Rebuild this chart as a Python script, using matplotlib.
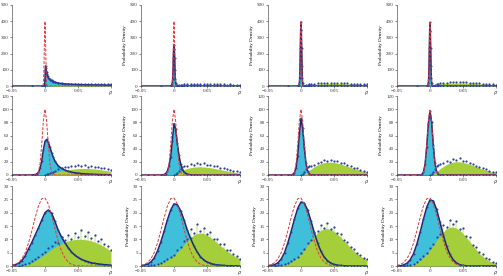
#!/usr/bin/env python3
'''
plot.py
  Probability density panels (3 rows x 4 columns): fitted components
  (cyan / green), histogram points and the reference gaussian (red).
'''

import numpy as np
import matplotlib
matplotlib.use('Agg')
from matplotlib import pyplot as plt

plt.rcParams['font.family'] = ['Liberation Serif', 'DejaVu Serif']

#
#   Data
#

# ---- row 1 (y up to 500) ----
x_r1 = [-0.05, -0.02, -0.005, -0.003, -0.0025, -0.002, -0.0015, -0.001,
        -0.0005, 0, 0.0005, 0.001, 0.0015, 0.002, 0.0025, 0.003, 0.004,
        0.005, 0.0075, 0.01, 0.0125, 0.015, 0.02, 0.025, 0.03, 0.035, 0.04,
        0.045, 0.05, 0.055, 0.06, 0.065, 0.07, 0.075, 0.08, 0.085, 0.09,
        0.095, 0.1]
red_r1 = [0, 0, 0, 4.4, 17.5, 54, 130, 242, 352, 399, 352, 242, 130, 54,
          17.5, 4.4, 0.1, 0, 0, 0, 0, 0, 0, 0, 0, 0, 0, 0, 0, 0, 0, 0, 0, 0,
          0, 0, 0, 0, 0]
cyan_r1 = [
    [0, 0, 0, 0, 0, 0, 0, 0.5, 5, 40, 100, 124, 110, 95, 85, 76, 62, 52, 40,
     32, 27, 23, 18, 15, 13, 11.5, 10.5, 9.5, 9, 8.5, 8, 7.5, 7, 6.5, 6, 5.8,
     5.5, 5.2, 5],
    [0, 0, 0.5, 8, 20, 45, 100, 170, 230, 255, 230, 170, 100, 45, 20, 8, 2,
     1, 0.5, 0.4, 0.3, 0.3, 0.2, 0.2, 0.2, 0.1, 0.1, 0.1, 0.1, 0.1, 0.1, 0.1,
     0, 0, 0, 0, 0, 0, 0],
    [0, 0, 0, 4, 16, 50, 125, 235, 345, 395, 345, 235, 125, 50, 16, 4, 0.5,
     0, 0, 0, 0, 0, 0, 0, 0, 0, 0, 0, 0, 0, 0, 0, 0, 0, 0, 0, 0, 0, 0],
    [0, 0, 0, 4, 16, 50, 124, 232, 342, 392, 342, 232, 124, 50, 16, 4, 0.5,
     0, 0, 0, 0, 0, 0, 0, 0, 0, 0, 0, 0, 0, 0, 0, 0, 0, 0, 0, 0, 0, 0],
]
green_r1 = [
    [0, 0, 0, 0, 0, 0, 0, 0, 0, 0, 0, 0, 0, 0, 0, 0, 0.5, 1, 2, 3, 3.5, 4,
     4.5, 5, 5, 5, 5, 5, 5, 5, 5, 5, 5, 4.8, 4.6, 4.4, 4.2, 4, 3.8],
    [0, 0, 0, 0, 0, 0, 0, 0, 0, 0, 0, 0, 0, 0, 0, 0, 0.5, 1, 2.5, 4, 5, 6, 7,
     7.5, 8, 8, 8, 8, 8, 8, 7.8, 7.5, 7.2, 7, 6.6, 6.2, 5.8, 5.4, 5],
    [0, 0, 0, 0, 0, 0, 0, 0, 0, 0, 0, 0, 0, 0, 0, 0, 0.5, 1, 3, 6, 8, 10, 11,
     12, 13, 14, 14.5, 15, 15, 14.8, 14.2, 13.5, 12.8, 12, 11, 10, 9, 8, 7],
    [0, 0, 0, 0, 0, 0, 0, 0, 0, 0, 0, 0, 0, 0, 0, 0, 0.5, 1, 4, 8, 11, 13,
     15, 16, 17, 17.5, 18, 18, 18, 17.5, 17, 16, 14.5, 13, 11.5, 10, 8.5,
     7.5, 6.5],
]
pts_r1 = [
    [0, 0, 0, 0, 0, 0, 0, 0, 0, 0, 0, 0, 0, 0, 0, 0, 0, 0, 42, 34, 28, 24,
     19, 16, 14, 13, 12, 12.5, 13, 14, 13, 14.5, 13, 12, 12.5, 11, 11.5, 10,
     10],
    [0, 0, 0, 0, 0, 0, 0, 0, 0, 0, 0, 0, 0, 0, 0, 0, 0, 4, 6, 8, 9, 10, 11,
     11.5, 12, 11, 12.5, 11.5, 12, 11, 11.5, 10.5, 10, 10.5, 9, 9.5, 8.5, 8,
     7.5],
    [0, 0, 0, 0, 0, 0, 0, 0, 0, 0, 0, 0, 0, 0, 0, 0, 0, 2, 5, 9, 12, 14, 15,
     16, 17, 19, 18, 20, 19, 19.5, 18, 17, 16.5, 15, 14, 13, 12, 11, 10],
    [0, 0, 0, 0, 0, 0, 0, 0, 0, 0, 0, 0, 0, 0, 0, 0, 0, 2, 6, 11, 15, 18, 20,
     21, 22, 23, 22, 23.5, 22.5, 23, 21, 20, 18, 16, 14, 12, 11, 9.5, 8],
]

# ---- row 2 (y up to 120) ----
x_r2 = [-0.05, -0.04, -0.03, -0.02, -0.015, -0.0125, -0.01, -0.0075,
        -0.005, -0.0025, 0, 0.0025, 0.005, 0.0075, 0.01, 0.0125, 0.015, 0.02,
        0.025, 0.03, 0.035, 0.04, 0.045, 0.05, 0.055, 0.06, 0.065, 0.07,
        0.075, 0.08, 0.085, 0.09, 0.095, 0.1]
red_r2 = [0, 0, 0, 0, 0.09, 0.76, 4.4, 17.2, 45.7, 82, 99.7, 82, 45.7, 17.2,
          4.4, 0.76, 0.09, 0, 0, 0, 0, 0, 0, 0, 0, 0, 0, 0, 0, 0, 0, 0, 0, 0]
cyan_r2 = [
    [0, 0, 0, 0.1, 0.6, 1.6, 4.0, 10, 21, 38, 51, 54, 50, 42, 34, 27, 21, 14,
     10, 7.5, 5.6, 4.3, 3.4, 2.7, 2.1, 1.7, 1.4, 1.1, 0.9, 0.7, 0.6, 0.5,
     0.4, 0.3],
    [0, 0, 0, 0.1, 0.7, 2.2, 6.0, 14, 28, 52, 78, 70, 48, 30, 17, 9, 4.5,
     1.2, 0.3, 0.1, 0, 0, 0, 0, 0, 0, 0, 0, 0, 0, 0, 0, 0, 0],
    [0, 0, 0, 0, 0.2, 0.9, 3.5, 11, 29, 62, 86, 72, 42, 18, 6, 1.6, 0.4, 0,
     0, 0, 0, 0, 0, 0, 0, 0, 0, 0, 0, 0, 0, 0, 0, 0],
    [0, 0, 0, 0, 0.2, 0.8, 4, 16, 42, 78, 97, 80, 45, 18, 5, 1, 0.2, 0, 0, 0,
     0, 0, 0, 0, 0, 0, 0, 0, 0, 0, 0, 0, 0, 0],
]
green_r2 = [
    [0, 0, 0, 0, 0, 0, 0, 0, 0, 0, 0.2, 0.5, 1.0, 1.6, 2.3, 3.0, 3.7, 5.0,
     6.2, 7.2, 8.0, 8.7, 9.2, 9.6, 9.8, 9.9, 9.8, 9.6, 9.2, 8.7, 8.0, 7.2,
     6.4, 5.5],
    [0, 0, 0, 0, 0, 0, 0, 0, 0, 0, 0, 0.5, 1.5, 3.0, 4.8, 6.5, 8.0, 10.0,
     11.2, 12.0, 12.4, 12.5, 12.2, 11.7, 11.0, 10.2, 9.3, 8.3, 7.3, 6.3, 5.3,
     4.4, 3.6, 2.9],
    [0, 0, 0, 0, 0, 0, 0, 0, 0, 0, 0, 0.4, 1.4, 3.0, 5.0, 7.0, 9.0, 12.5,
     15.3, 17.4, 18.8, 19.5, 19.5, 19.0, 18.0, 16.7, 15.1, 13.4, 11.6, 9.9,
     8.3, 6.8, 5.5, 4.4],
    [0, 0, 0, 0, 0, 0, 0, 0, 0, 0, 0, 0.3, 1.2, 2.8, 4.8, 7.0, 9.2, 13.0,
     16.0, 18.2, 19.6, 20.2, 20.0, 19.2, 17.9, 16.3, 14.5, 12.6, 10.7, 8.9,
     7.3, 5.8, 4.5, 3.4],
]
pts_r2 = [
    [0, 0, 0, 0, 0, 0, 0, 0, 0, 0, 0.3, 0.8, 1.5, 2.4, 3.5, 4.8, 6.2, 9,
     10.5, 12.8, 11.9, 14.3, 13.1, 15.2, 13.4, 14.8, 12.6, 13.9, 11.8, 12.4,
     10.2, 10.8, 8.6, 7.9],
    [0, 0, 0, 0, 0, 0, 0, 0, 0, 0, 0.3, 1.0, 3.5, 6.0, 9.5, 12, 13.5, 14.2,
     16.8, 15.1, 17.9, 16.2, 17.5, 15.0, 15.8, 13.1, 13.0, 10.9, 10.6, 8.4,
     8.1, 6.2, 5.5, 4.3],
    [0, 0, 0, 0, 0, 0, 0, 0, 0, 0, 0.2, 1.2, 4.5, 8.5, 11.5, 13.0, 14.0,
     15.5, 18.6, 19.4, 22.3, 21.0, 23.1, 20.8, 21.4, 18.5, 17.8, 15.2, 14.0,
     11.3, 10.1, 8.0, 6.8, 5.1],
    [0, 0, 0, 0, 0, 0, 0, 0, 0, 0, 0.3, 1.5, 5.0, 9.5, 13.0, 15.5, 17.0,
     18.4, 21.5, 20.2, 24.6, 22.8, 25.1, 21.2, 21.0, 18.1, 16.9, 14.3, 12.6,
     10.4, 8.5, 6.7, 5.1, 3.9],
]

# ---- row 3 (y up to 30) ----
x_r3 = [-0.05, -0.045, -0.04, -0.035, -0.03, -0.025, -0.02, -0.015, -0.01,
        -0.005, 0, 0.005, 0.01, 0.015, 0.02, 0.025, 0.03, 0.035, 0.04, 0.045,
        0.05, 0.055, 0.06, 0.065, 0.07, 0.075, 0.08, 0.085, 0.09, 0.095, 0.1]
red_r3 = [0.2, 0.55, 1.3, 2.7, 5.0, 8.6, 13.1, 18.1, 22.5, 25.2, 25.5, 23.2,
          19.0, 14.1, 9.4, 5.6, 3.1, 1.5, 0.65, 0.26, 0.1, 0, 0, 0, 0, 0, 0,
          0, 0, 0, 0]
cyan_r3 = [
    [0.2, 0.5, 1.0, 2.0, 3.8, 6.4, 8.8, 11.6, 14.2, 17.2, 20.0, 21.0, 19.8,
     16.8, 13.4, 10.9, 8.8, 6.9, 5.3, 4.1, 3.2, 2.5, 2.0, 1.6, 1.2, 1.0, 0.8,
     0.6, 0.5, 0.4, 0.3],
    [0.1, 0.3, 0.7, 1.5, 3.0, 5.6, 9.0, 13.0, 17.3, 21.0, 23.3, 23.0, 20.8,
     17.4, 13.6, 10.4, 7.6, 5.3, 3.5, 2.3, 1.5, 1.0, 0.6, 0.4, 0.3, 0.2, 0.1,
     0.1, 0.05, 0.05, 0],
    [0.1, 0.2, 0.5, 1.2, 2.6, 5.0, 8.6, 12.9, 17.5, 21.6, 24.0, 23.6, 21.0,
     17.0, 12.6, 8.7, 5.6, 3.4, 2.0, 1.1, 0.6, 0.3, 0.2, 0.1, 0.05, 0, 0, 0,
     0, 0, 0],
    [0, 0.1, 0.4, 1.0, 2.3, 4.6, 8.1, 12.6, 17.5, 22.0, 24.8, 24.4, 21.2,
     16.6, 11.7, 7.5, 4.4, 2.4, 1.2, 0.5, 0.2, 0.1, 0, 0, 0, 0, 0, 0, 0, 0,
     0],
]
green_r3 = [
    [0, 0, 0, 0.1, 0.3, 0.7, 1.3, 2.0, 2.8, 3.6, 4.5, 5.4, 6.3, 7.1, 7.8,
     8.4, 9.0, 9.4, 9.7, 9.9, 10.0, 10.0, 9.9, 9.7, 9.4, 9.0, 8.5, 7.9, 7.2,
     6.4, 5.6],
    [0, 0, 0, 0.1, 0.3, 0.6, 1.0, 1.6, 2.3, 3.1, 4.0, 5.2, 6.6, 8.0, 9.4,
     10.6, 11.6, 12.2, 12.4, 12.2, 11.6, 10.8, 9.8, 8.8, 7.7, 6.7, 5.7, 4.8,
     4.0, 3.3, 2.7],
    [0, 0, 0, 0.1, 0.2, 0.5, 0.9, 1.5, 2.3, 3.3, 4.6, 6.1, 7.8, 9.5, 11.1,
     12.4, 13.4, 13.9, 14.0, 13.7, 13.0, 12.0, 10.8, 9.5, 8.2, 6.9, 5.7, 4.6,
     3.7, 2.9, 2.2],
    [0, 0, 0, 0.1, 0.3, 0.7, 1.3, 2.2, 3.3, 4.6, 6.1, 7.8, 9.6, 11.3, 12.8,
     13.9, 14.5, 14.6, 14.2, 13.4, 12.2, 10.8, 9.2, 7.6, 6.1, 4.7, 3.6, 2.6,
     1.9, 1.3, 0.9],
]
pts_r3 = [
    [0, 0, 0.1, 0.3, 0.6, 1.1, 1.9, 2.8, 3.5, 4.6, 5.2, 6.8, 7.5, 9.1, 8.6,
     10.8, 9.7, 11.5, 10.2, 12.4, 10.9, 13.6, 11.2, 12.9, 10.6, 11.8, 9.4,
     10.1, 8.2, 7.4, 5.9],
    [0, 0, 0.1, 0.2, 0.4, 0.8, 1.2, 1.9, 2.6, 3.5, 4.3, 6.1, 7.2, 9.4, 10.1,
     13.8, 12.2, 15.6, 13.1, 14.2, 12.0, 12.6, 10.1, 10.3, 8.2, 8.4, 6.0,
     5.9, 4.4, 3.7, 2.8],
    [0, 0, 0.1, 0.2, 0.3, 0.6, 1.1, 1.7, 2.5, 3.2, 4.9, 6.4, 8.5, 9.8, 12.5,
     13.1, 15.2, 14.4, 16.1, 13.8, 14.6, 12.2, 12.0, 9.6, 9.1, 7.0, 6.4, 4.8,
     4.1, 3.0, 2.5],
    [0, 0, 0.1, 0.2, 0.5, 0.9, 1.5, 2.6, 3.8, 5.0, 6.8, 8.4, 10.9, 12.1,
     15.2, 14.6, 17.4, 15.8, 16.9, 13.9, 14.1, 11.3, 10.8, 8.0, 7.2, 5.1,
     4.6, 3.0, 2.5, 1.6, 1.2],
]

y_ticks = [[0, 100, 200, 300, 400, 500],
           [0, 20, 40, 60, 80, 100, 120],
           [0, 5, 10, 15, 20, 25, 30]]
x_ticks = [-0.05, 0, 0.05, 0.1]
x_labels = ['\u22120.05', '0', '0.05', '$\\rho$']

#
#   Style
#
CYAN = '#40bfdb'
GREEN = '#a5cf3a'
PALE = '#dcedb8'
NAVY = '#1d2670'
DOTS = '#2c3f9e'
RED = '#e5373c'
FS = 3.6

rows = [
    (x_r1, red_r1, cyan_r1, green_r1, pts_r1),
    (x_r2, red_r2, cyan_r2, green_r2, pts_r2),
    (x_r3, red_r3, cyan_r3, green_r3, pts_r3),
]

W, H = 503, 276
col_left = [12, 141, 268, 397]
col_w = 99
row_top = [5, 96, 186]
row_bot = [86, 175, 266]

fig = plt.figure(figsize=(W / 100, H / 100), dpi=100)

for r, (xs, red, cyans, greens, pts) in enumerate(rows):
    xs = np.array(xs)
    for c in range(4):
        ax = fig.add_axes([col_left[c] / W, 1 - row_bot[r] / H,
                           col_w / W, (row_bot[r] - row_top[r]) / H])
        cy = np.array(cyans[c])
        gr = np.array(greens[c])
        pt = np.array(pts[c])

        # pale histogram bars of the second component
        if r == 2:
            ax.vlines(xs, 0, pt, color=PALE, lw=1.2, zorder=1)
        ax.fill_between(xs, 0, cy, color=CYAN, lw=0, zorder=2)
        ax.fill_between(xs, 0, gr, color=GREEN, lw=0, zorder=3)
        ax.plot(xs, cy, color=NAVY, lw=1.1, zorder=4,
                marker='o', ms=1.4, mfc=DOTS, mec=DOTS, mew=0)
        mask = pt > 0
        ax.plot(xs[mask], pt[mask], ls='none', marker='o', ms=1.6,
                mfc=DOTS, mec=DOTS, mew=0, zorder=5)
        ax.plot(xs, red, color=RED, lw=0.7, ls=(0, (3, 1.5)), zorder=6)

        ax.set_xlim(-0.05, 0.1)
        ax.set_ylim(0, y_ticks[r][-1])
        ax.set_xticks(x_ticks)
        ax.set_xticklabels(x_labels)
        ax.set_yticks(y_ticks[r])
        ax.tick_params(labelsize=FS, length=1.5, width=0.4, pad=0.8,
                       colors='#333333')
        for side in ('top', 'right'):
            ax.spines[side].set_visible(False)
        for side in ('left', 'bottom'):
            ax.spines[side].set_linewidth(0.5)
            ax.spines[side].set_color('#555555')
        ax.set_ylabel('Probability Density', fontsize=FS, labelpad=2)
        ax.patch.set_alpha(0)

fig.savefig('out.png', dpi=100)
